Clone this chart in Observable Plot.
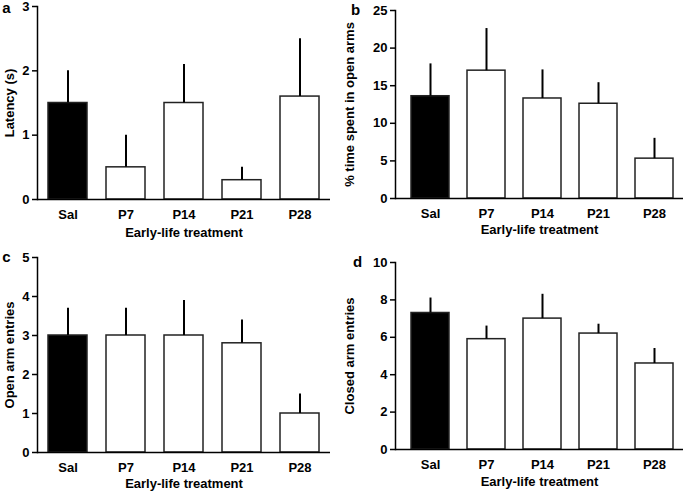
<!DOCTYPE html>
<html>
<head>
<meta charset="utf-8">
<script src="https://cdn.jsdelivr.net/npm/d3@7"></script>
<script src="https://cdn.jsdelivr.net/npm/@observablehq/plot@0.6"></script>
<style>
  body { margin: 0; background: white; }
  #wrap { position: relative; width: 685px; height: 495px; background: white; overflow: hidden; }
  #wrap > div { position: absolute; }
</style>
</head>
<body>
<div id="wrap">
  <div id="pa" style="left:0;top:0"></div>
  <div id="pb" style="left:340px;top:0"></div>
  <div id="pc" style="left:0;top:245px"></div>
  <div id="pd" style="left:340px;top:245px"></div>
</div>
<script>
const groups = ["Sal", "P7", "P14", "P21", "P28"];
const xTitle = "Early-life treatment";

// Panel a: latency
const latencyMean = [1.5, 0.5, 1.5, 0.3, 1.6];
const latencySem  = [0.5, 0.5, 0.6, 0.2, 0.9];
const latencyTicks = [0, 1, 2, 3];

// Panel b: % time in open arms
const openTimeMean = [13.6, 17.0, 13.3, 12.6, 5.3];
const openTimeSem  = [4.3, 5.6, 3.8, 2.8, 2.7];
const openTimeTicks = [0, 5, 10, 15, 20, 25];

// Panel c: open arm entries
const openEntriesMean = [3.0, 3.0, 3.0, 2.8, 1.0];
const openEntriesSem  = [0.7, 0.7, 0.9, 0.6, 0.5];
const openEntriesTicks = [0, 1, 2, 3, 4, 5];

// Panel d: closed arm entries
const closedEntriesMean = [7.3, 5.9, 7.0, 6.2, 4.6];
const closedEntriesSem  = [0.8, 0.7, 1.3, 0.5, 0.8];
const closedEntriesTicks = [0, 2, 4, 6, 8, 10];

const FONT = "'Liberation Sans', Arial, Helvetica, sans-serif";

function panel(o) {
  const rows = groups.map((g, i) => ({group: g, value: o.mean[i], upper: o.mean[i] + o.sem[i]}));
  return Plot.plot({
    width: o.width, height: o.height,
    marginLeft: o.ml, marginRight: o.mr, marginTop: o.mt, marginBottom: o.mb,
    style: {fontFamily: FONT, fontWeight: "bold", fontSize: "13px", color: "black", background: "white", overflow: "visible"},
    x: {domain: groups, range: o.xRange, paddingInner: 0.32, paddingOuter: 0.16, label: null},
    y: {domain: [0, o.ticks[o.ticks.length - 1]], label: null},
    color: {type: "identity"},
    marks: [
      Plot.barY(rows, {x: "group", y: "value", fill: d => d.group === "Sal" ? "black" : "white", stroke: "#222", strokeWidth: 1.5}),
      Plot.ruleX(rows, {x: "group", y1: "value", y2: "upper", stroke: "black", strokeWidth: 2}),
      Plot.ruleY([0], {stroke: "black", strokeWidth: 1.5}),
      Plot.frame({anchor: "left", stroke: "black", strokeWidth: 1.5}),
      Plot.axisY({ticks: o.ticks, tickFormat: d3.format("d"), tickSize: 5, tickPadding: 3, strokeWidth: 1.5, label: null, fontWeight: "bold", fontSize: 13}),
      Plot.axisX({tickSize: 0, tickPadding: 10, label: null, fontWeight: "bold", fontSize: 13}),
      Plot.text([o.ylabel], {frameAnchor: "left", textAnchor: "middle", rotate: -90, dx: -(o.ml - 9), fontSize: 13, fontWeight: "bold"}),
      Plot.text([xTitle], {frameAnchor: "bottom", textAnchor: "middle", dy: o.titleDy, fontSize: 13, fontWeight: "bold"}),
      Plot.text([o.letter], {frameAnchor: "top-left", textAnchor: "middle", lineAnchor: "middle", dx: o.letterDx, dy: o.letterDy, fontSize: 15, fontWeight: "bold"})
    ]
  });
}

document.getElementById("pa").append(panel({
  letter: "a", ylabel: "Latency (s)", mean: latencyMean, sem: latencySem, ticks: latencyTicks,
  width: 340, height: 245, ml: 37, mr: 10, mt: 6, mb: 46, xRange: [37, 330], letterDx: -31, letterDy: 2, titleDy: 37
}));
document.getElementById("pb").append(panel({
  letter: "b", ylabel: "% time spent in open arms", mean: openTimeMean, sem: openTimeSem, ticks: openTimeTicks,
  width: 345, height: 245, ml: 55, mr: 2, mt: 10, mb: 47, xRange: [62, 343], letterDx: -40, letterDy: 0, titleDy: 35
}));
document.getElementById("pc").append(panel({
  letter: "c", ylabel: "Open arm entries", mean: openEntriesMean, sem: openEntriesSem, ticks: openEntriesTicks,
  width: 340, height: 250, ml: 37, mr: 10, mt: 12, mb: 43, xRange: [37, 330], letterDx: -31, letterDy: 0, titleDy: 35
}));
document.getElementById("pd").append(panel({
  letter: "d", ylabel: "Closed arm entries", mean: closedEntriesMean, sem: closedEntriesSem, ticks: closedEntriesTicks,
  width: 345, height: 250, ml: 55, mr: 2, mt: 17, mb: 46, xRange: [62, 343], letterDx: -38, letterDy: 0, titleDy: 36
}));
</script>
</body>
</html>
